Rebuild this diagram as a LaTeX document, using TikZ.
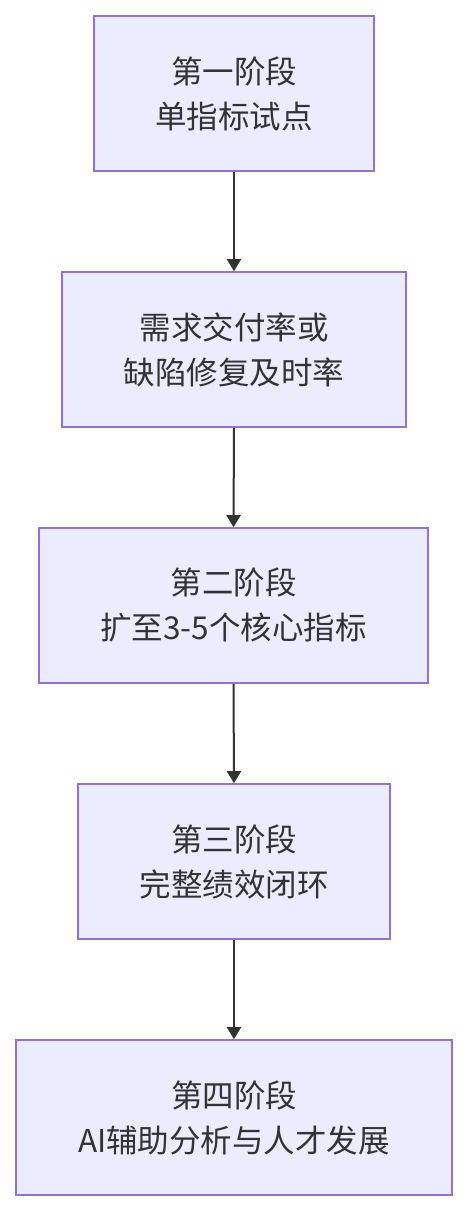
\documentclass[tikz,border=0pt]{standalone}
\usepackage{fontspec}
\setmainfont{Noto Sans CJK SC}
\usetikzlibrary{arrows.meta}
\definecolor{boxfill}{HTML}{ECECFF}
\definecolor{boxline}{HTML}{9370DB}
\definecolor{ink}{HTML}{333333}
\begin{document}
\begin{tikzpicture}[x=1pt,y=-1pt,
  stage/.style={draw=boxline,fill=boxfill,line width=1.6pt,minimum height=155pt,inner sep=0pt,
    align=center,text=ink,font=\fontsize{31.5}{45}\selectfont},
  flow/.style={draw=ink,line width=2pt,-{Triangle[width=14pt,length=12pt]}}]
\useasboundingbox (0,0) rectangle (467,1212);
\node[stage,minimum width=280pt] (s1) at (234,93.5) {第一阶段\\单指标试点};
\node[stage,minimum width=344pt] (s2) at (234,349.5) {需求交付率或\\缺陷修复及时率};
\node[stage,minimum width=389pt] (s3) at (233.5,605.5) {第二阶段\\扩至3-5个核心指标};
\node[stage,minimum width=312pt] (s4) at (234,861.5) {第三阶段\\完整绩效闭环};
\node[stage,minimum width=436pt] (s5) at (234,1117.5) {第四阶段\\AI辅助分析与人才发展};
\draw[flow] (s1.south) -- (s2.north);
\draw[flow] (s2.south) -- (s3.north);
\draw[flow] (s3.south) -- (s4.north);
\draw[flow] (s4.south) -- (s5.north);
\end{tikzpicture}
\end{document}
